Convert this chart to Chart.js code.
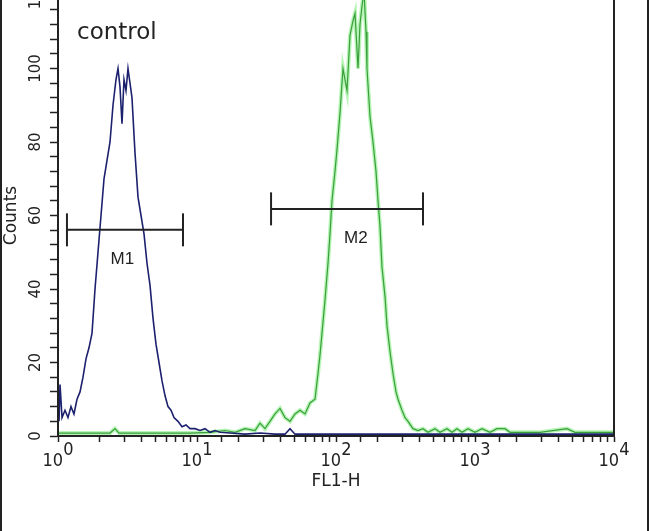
<!DOCTYPE html>
<html>
<head>
<meta charset="utf-8">
<script src="https://cdn.jsdelivr.net/npm/chart.js@4.4.1/dist/chart.umd.min.js"></script>
<style>
  html, body { margin:0; padding:0; background:#fff; overflow:hidden; }
  #wrap { position:absolute; left:0; top:-25px; width:650px; height:556px; }
  .edge { position:absolute; top:0; width:2px; height:531px; background:#222; }
</style>
</head>
<body>
<div id="wrap"><canvas id="histo"></canvas></div>
<div class="edge" style="left:0"></div>
<div class="edge" style="left:647px"></div>
<script>
// FL1-H channel (log scale) and counts
const blueX = [1.017,1.034,1.069,1.123,1.18,1.24,1.303,1.37,1.44,1.513,1.59,1.671,1.757,1.846,1.94,2.039,2.143,2.252,2.367,2.487,2.614,2.702,2.793,2.887,2.984,3.084,3.188,3.296,3.407,3.581,3.764,3.956,4.157,4.369,4.592,4.826,5.07,5.329,5.601,5.886,6.186,6.501,6.832,7.298,7.801,8.336,8.906,9.674,10.51,11.42,12.4,13.48,14.64,17.28,22.15,28.4,36.41,42.97,46.68,50.7,126.1,10000];
const blueCounts = [4,14,5,7,5,8,6,10,12,16,21,24,28,40,50,60,70,75,80,90,97,100,95,85,97,94,100,96,92,77,65,60,55,47,41,32,25,20,15,11,8,7,5,4,2.5,3,2,2,1.5,2,1,1.5,1,0.8,0.5,0.8,0.5,0.5,2,0.5,0.5,0.5];

const greenX = [1,1.44,2.367,2.571,2.747,4.592,8.906,12.4,15.9,18.76,22.15,26.15,28.4,30.84,33.5,36.41,39.56,42.97,46.68,50.7,55.08,59.84,65.01,70.62,74.21,76.71,79.29,83.36,87.6,90.55,93.59,98.35,101.7,106.9,112.3,116.1,120,126.1,132.6,137,144,148.8,153.9,159,164.4,167.1,175.6,184.6,194,200.6,207.3,214.2,225.2,232.8,244.6,257.1,270.2,279.3,298.4,313.6,329.6,358.1,389,422.6,459.1,515.5,560.1,629,683.2,742.1,806.4,890.6,1000,1123,1282,1440,1644,1786,2935,4592,5241,10000];
const greenCounts = [0.8,0.8,0.8,2,0.8,0.8,0.8,1,1.5,1,2,1.5,3.5,2,4,6,7.5,5,4,6,7,6,9,10,17,22,28,37,47,55,64,72,78,88,100,97,94,109,113,115,100,112,117,121,110,100,87,80,72,64,57,46,38,30,23,17,12,10,7,5,4,2,1.5,2,1,2,1,2,1,2,1,2,1,2,1,2,2,1,1,2,1,1];

// gates
const gateNames = ['M1','M2'];
const gateStart = [1.16, 34.1];
const gateEnd = [7.93, 422.6];
const gateLevel = [56.1, 61.8];
const gateLabelX = [2.9, 139];

const sampleName = 'control';
const xTicks = [1, 10, 100, 1000, 10000];
const yMax = 120;

const toPoints = (xs, ys) => xs.map((x, i) => ({x: x, y: ys[i]}));

const gateSets = gateNames.map((n, i) => ({
  label: n,
  data: [{x: gateStart[i], y: gateLevel[i]}, {x: gateEnd[i], y: gateLevel[i]}],
  borderColor: '#222',
  borderWidth: 2,
  pointStyle: 'line',
  pointRotation: 90,
  pointRadius: 16.5,
  pointBorderWidth: 2,
  pointBorderColor: '#222',
  order: 0
}));

const extras = {
  id: 'extras',
  afterDatasetsDraw(chart) {
    const {ctx, chartArea: a, scales: {x, y}} = chart;
    ctx.save();
    ctx.strokeStyle = '#222';
    ctx.lineWidth = 2;
    ctx.strokeRect(a.left, a.top, a.right - a.left, a.bottom - a.top);
    ctx.fillStyle = '#222';
    ctx.font = '17px "Liberation Sans", Arial, sans-serif';
    ctx.textAlign = 'center';
    ctx.textBaseline = 'middle';
    gateNames.forEach((n, i) => {
      ctx.fillText(n, x.getPixelForValue(gateLabelX[i]), y.getPixelForValue(gateLevel[i]) + 29);
    });
    ctx.font = '23px "DejaVu Sans", sans-serif';
    ctx.textAlign = 'left';
    ctx.textBaseline = 'alphabetic';
    ctx.fillText(sampleName, a.left + 19, a.top + 43.5);
    ctx.restore();
  }
};

new Chart(document.getElementById('histo'), {
  type: 'line',
  data: {
    datasets: [
      ...gateSets,
      {
        data: toPoints(blueX, blueCounts),
        borderColor: '#1c216e',
        borderWidth: 1.6,
        pointRadius: 0,
        order: 1
      },
      {
        data: toPoints(greenX, greenCounts),
        borderColor: '#3a9e3a',
        borderWidth: 1.2,
        pointRadius: 0,
        order: 2
      },
      {
        data: toPoints(greenX, greenCounts),
        borderColor: 'rgba(90,230,90,0.45)',
        borderWidth: 4,
        pointRadius: 0,
        order: 3
      }
    ]
  },
  options: {
    responsive: true,
    maintainAspectRatio: false,
    animation: false,
    events: [],
    layout: { padding: { left: 0, top: 20, right: 36, bottom: 0 } },
    plugins: { legend: { display: false }, tooltip: { enabled: false } },
    scales: {
      x: {
        type: 'logarithmic',
        min: xTicks[0],
        max: xTicks[xTicks.length - 1],
        grid: { drawOnChartArea: false, drawTicks: true, tickLength: 6, tickColor: '#222', tickWidth: 1.5 },
        border: { display: true, color: '#222', width: 2 },
        ticks: {
          autoSkip: false,
          maxRotation: 0,
          minRotation: 0,
          padding: 3,
          color: '#222',
          font: { family: '"Liberation Sans Narrow", "DejaVu Sans Condensed", "Liberation Sans", sans-serif', size: 18, lineHeight: 0.62 },
          callback: (v) => {
            const p = Math.round(Math.log10(v));
            if (xTicks.indexOf(v) < 0) return '';
            return ['    ' + p, '10  '];
          }
        },
        title: { display: true, text: 'FL1-H', color: '#222', font: { family: '"DejaVu Sans", sans-serif', size: 17 }, padding: { top: 0, bottom: 39 } },
        afterFit: (s) => { s.height = 95; }
      },
      y: {
        min: 0,
        max: yMax,
        grid: { drawOnChartArea: false, drawTicks: true, tickLength: 8, tickColor: '#222', tickWidth: 1.5 },
        border: { display: true, color: '#222', width: 2 },
        ticks: {
          stepSize: 4,
          maxTicksLimit: 50,
          autoSkip: false,
          minRotation: 90,
          maxRotation: 90,
          crossAlign: 'center',
          padding: 0,
          color: '#222',
          font: { family: '"DejaVu Sans", sans-serif', size: 15 },
          callback: (v) => (v % 20 === 0 ? String(v) : '')
        },
        title: { display: true, text: 'Counts', color: '#222', font: { family: '"DejaVu Sans", sans-serif', size: 17 }, padding: { top: 1, bottom: 0 } },
        afterFit: (s) => { s.width = 58; }
      }
    }
  },
  plugins: [extras]
});
</script>
</body>
</html>
